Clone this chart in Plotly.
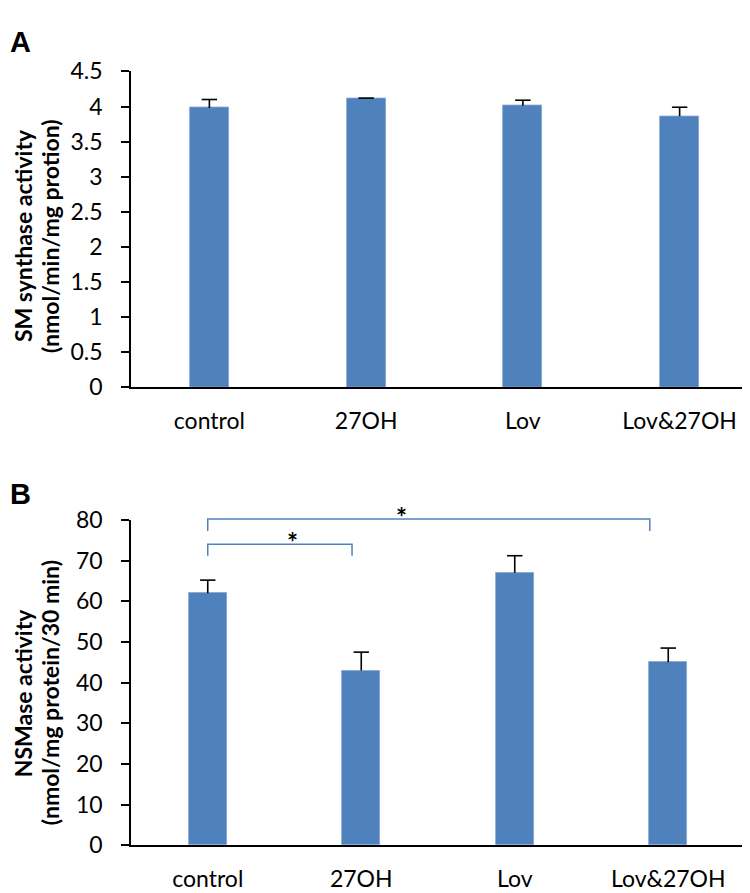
import plotly.graph_objects as go

categories = ["control", "27OH", "Lov", "Lov&27OH"]

sm_values = [3.98, 4.11, 4.01, 3.86]
sm_err = [0.12, 0.01, 0.08, 0.13]

nsm_values = [62.0, 43.0, 67.0, 45.0]
nsm_err = [3.2, 4.5, 4.2, 3.5]

a_ticks = [0, 0.5, 1, 1.5, 2, 2.5, 3, 3.5, 4, 4.5]
a_tick_labels = ["0", "0.5", "1", "1.5", "2", "2.5", "3", "3.5", "4", "4.5"]
b_ticks = [0, 10, 20, 30, 40, 50, 60, 70, 80]
b_tick_labels = ["0", "10", "20", "30", "40", "50", "60", "70", "80"]

# significance brackets in panel B
bracket_start = [0.0, 0.0]
bracket_end = [0.94, 2.88]
bracket_top = [74.0, 80.2]
bracket_leg = [71.2, 77.3]
star_x = [0.5, 1.26]
star_labels = ["*", "*"]

BAR = "#4F81BD"
W, H = 750, 893
FONT = "Lato"

fig = go.Figure()
xi = list(range(len(categories)))


def add_bars(vals, errs, xa, ya):
    fig.add_trace(go.Bar(
        x=xi, y=vals, width=0.25, xaxis=xa, yaxis=ya,
        marker=dict(color=BAR, line=dict(color="#86A6D2", width=0.8)),
        error_y=dict(type="data", array=errs, arrayminus=[0] * len(errs), symmetric=False,
                     color="black", thickness=1.6, width=0),
        showlegend=False, hoverinfo="skip"))
    # caps only at the top end of each error bar
    fig.add_trace(go.Scatter(
        x=xi, y=[v + e for v, e in zip(vals, errs)], xaxis=xa, yaxis=ya,
        mode="markers", marker=dict(symbol="line-ew", size=11,
                                    line=dict(color="black", width=1.6)),
        cliponaxis=False, showlegend=False, hoverinfo="skip"))


add_bars(sm_values, sm_err, "x", "y")
add_bars(nsm_values, nsm_err, "x2", "y2")

ax_common = dict(showgrid=False, zeroline=False, showline=True, linecolor="black",
                 linewidth=1.5, tickfont=dict(family=FONT, size=23, color="black"))

fig.update_layout(
    width=W, height=H, margin=dict(l=0, r=0, t=0, b=0),
    plot_bgcolor="white", paper_bgcolor="white",
    bargap=0,
    xaxis=dict(domain=[123 / W, 1.0], anchor="y", range=[-0.5, 3.5],
               tickvals=xi, ticktext=categories, ticks="", ticklabelstandoff=12,
               **ax_common),
    yaxis=dict(domain=[(H - 376) / H, (H - 50) / H], anchor="x", range=[0, 4.5],
               tickvals=a_ticks, ticktext=a_tick_labels, ticks="outside", ticklen=8,
               tickcolor="black", tickwidth=1.5, ticklabelstandoff=14, **ax_common),
    xaxis2=dict(domain=[123 / W, 737 / W], anchor="y2", range=[-0.5, 3.5],
                tickvals=xi, ticktext=categories, ticks="", ticklabelstandoff=12,
                **ax_common),
    yaxis2=dict(domain=[(H - 849) / H, (H - 513) / H], anchor="x2", range=[0, 80],
                tickvals=b_ticks, ticktext=b_tick_labels, ticks="outside", ticklen=8,
                tickcolor="black", tickwidth=1.5, ticklabelstandoff=14, **ax_common),
)


def xdom(v):
    return (v + 0.5) / len(categories)


for s, e, t, l in zip(bracket_start, bracket_end, bracket_top, bracket_leg):
    path = "M {x0},{y0} L {x0},{y1} L {x1},{y1} L {x1},{y0}".format(
        x0=xdom(s), x1=xdom(e), y0=l / 80, y1=t / 80)
    fig.add_shape(type="path", path=path, xref="x2 domain", yref="y2 domain",
                  line=dict(color="#4F81BD", width=1.5))

for sx, t, lab in zip(star_x, bracket_top, star_labels):
    fig.add_annotation(x=xdom(sx), y=t / 80, xref="x2 domain", yref="y2 domain",
                       text="<b>" + lab + "</b>", showarrow=False,
                       font=dict(family=FONT, size=26, color="black"),
                       yanchor="middle", yshift=2)

# y-axis titles (two lines each)
titles = [
    ("SM synthase activity", "(nmol/min/mg protion)", 220),
    ("NSMase activity", "(nmol/mg protein/30 min)", 692),
]
for l1, l2, yc in titles:
    fig.add_annotation(x=0, y=(H - yc) / H, xref="paper", yref="paper",
                       text="<b>" + l1 + "</b>", textangle=-90, showarrow=False,
                       xanchor="left", yanchor="middle", borderpad=0,
                       font=dict(family=FONT, size=23, color="black"))
    fig.add_annotation(x=27 / W, y=(H - yc) / H, xref="paper", yref="paper",
                       text="<b>" + l2 + "</b>", textangle=-90, showarrow=False,
                       xanchor="left", yanchor="middle", borderpad=0,
                       font=dict(family=FONT, size=23, color="black"))

# panel letters
fig.add_annotation(x=0, y=1 - 1 / H, xref="paper", yref="paper", text="<b>A</b>",
                   showarrow=False, xanchor="left", yanchor="top",
                   font=dict(family="Liberation Sans", size=29, color="black"))
fig.add_annotation(x=0, y=(H - 468) / H, xref="paper", yref="paper", text="<b>B</b>",
                   showarrow=False, xanchor="left", yanchor="top",
                   font=dict(family="Liberation Sans", size=29, color="black"))

fig.write_html("out.html")
